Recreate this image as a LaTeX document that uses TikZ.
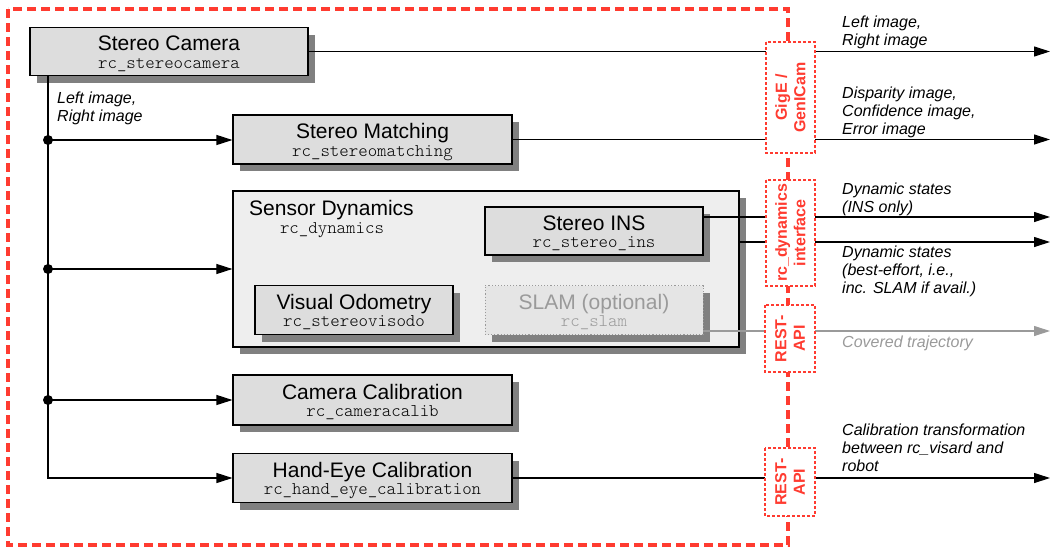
\documentclass[tikz,border=0pt]{standalone}
\usepackage{fontspec}
\setmainfont{Liberation Sans}
\newfontfamily\monof{lmmonolt10-regular.otf}
\usetikzlibrary{arrows.meta,shadows}
\definecolor{ifred}{HTML}{FF3B30}
\definecolor{boxfill}{HTML}{DDDDDD}
\definecolor{dynfill}{HTML}{EEEEEE}
\definecolor{shadowgray}{HTML}{808080}
\definecolor{slamgray}{HTML}{9A9A9A}
\newcommand{\mono}[1]{{\monof\fontsize{18}{18}\selectfont #1}}
\newcommand{\modtext}[2]{\rule{0pt}{21pt}#1\\\mono{#2}\rule[-5pt]{0pt}{5pt}}
\tikzset{
  modbox/.style={draw=black, line width=1.1pt, fill=boxfill, inner sep=0pt, align=center,
    font=\fontsize{21}{17.5}\selectfont,
    drop shadow={shadow xshift=7pt, shadow yshift=-7pt, fill=shadowgray, opacity=1}},
  slambox/.style={modbox, draw=slamgray, dotted, line width=0.9pt, fill=black!10, text=slamgray},
  dynbox/.style={modbox, fill=dynfill, line width=1.2pt},
  ifbox/.style={draw=ifred, line width=1.8pt, dash pattern=on 3pt off 2pt, fill=white,
    rotate=90, inner sep=0pt, align=center, text=ifred, font=\bfseries\fontsize{16}{18.5}\selectfont},
  frame/.style={draw=ifred, line width=3.2pt, dash pattern=on 9pt off 5pt},
  arr/.style={line width=1.1pt, -{Triangle[length=16pt,width=10pt]}},
  conn/.style={line width=1.1pt},
  lbl/.style={anchor=north west, inner sep=0pt, align=left, font=\fontsize{16}{18}\selectfont\itshape},
  dot/.style={circle, fill=black, inner sep=0pt, minimum size=10pt}
}
\begin{document}
\begin{tikzpicture}[x=1pt,y=-1pt]
\useasboundingbox (0,0) rectangle (1056,557);
% outer frame
\draw[frame] (8,9) rectangle (788,545);
% modules
\node[modbox, minimum width=278pt, minimum height=48pt] (cam) at (169,51.5) {\modtext{Stereo Camera}{rc\_stereocamera}};
\node[modbox, minimum width=279pt, minimum height=49pt] (match) at (372.5,139.5) {\modtext{Stereo Matching}{rc\_stereomatching}};
\node[dynbox, minimum width=506pt, minimum height=156pt] (dyn) at (486,269) {};
\node[anchor=base west, inner sep=0pt, font=\fontsize{21}{18}\selectfont] (dyntitle) at (249,215) {Sensor Dynamics};
\node[anchor=base, inner sep=0pt] (dynmono) at (332,233) {\mono{rc\_dynamics}};
\node[modbox, minimum width=218pt, minimum height=48pt] (ins) at (594,231) {\modtext{Stereo INS}{rc\_stereo\_ins}};
\node[modbox, minimum width=198pt, minimum height=49pt] (vo) at (354,310) {\modtext{Visual Odometry}{rc\_stereovisodo}};
\node[slambox, minimum width=218pt, minimum height=49pt] (slam) at (594,310) {\modtext{SLAM (optional)}{rc\_slam}};
\node[modbox, minimum width=279pt, minimum height=50pt] (calib) at (372.5,400) {\modtext{Camera Calibration}{rc\_cameracalib}};
\node[modbox, minimum width=279pt, minimum height=49pt] (he) at (372.5,478) {\modtext{Hand-Eye Calibration}{rc\_hand\_eye\_calibration}};
% trunk
\coordinate (j1) at (48,140);
\coordinate (j2) at (48,269);
\coordinate (j3) at (48,400);
\draw[conn] (j1 |- cam.south) -- (j3);
\draw[arr] (j3) |- (he.west);
\draw[arr] (j1) -- (j1 -| match.west);
\draw[arr] (j2) -- (j2 -| dyn.west);
\draw[arr] (j3) -- (j3 -| calib.west);
\node[dot] (d1) at (j1) {};
\node[dot] (d2) at (j2) {};
\node[dot] (d3) at (j3) {};
\node[lbl] (lleft) at (57,91.3) {Left image,\\Right image};
% outputs
\coordinate (o1) at (1050,51.5);
\coordinate (o2) at (1050,139.5);
\coordinate (o3) at (1050,217);
\coordinate (o4) at (1050,242);
\coordinate (o5) at (1050,331);
\coordinate (o6) at (1050,478);
\draw[arr] (cam.east) -- (o1);
\draw[arr] (match.east) -- (o2);
\draw[arr] (o3 -| ins.east) -- (o3);
\draw[arr] (o4 -| dyn.east) -- (o4);
\draw[arr, draw=slamgray, fill=slamgray] (o5 -| slam.east) -- (o5);
\draw[arr] (he.east) -- (o6);
% interfaces
\node[ifbox, minimum width=111pt, minimum height=49pt] (gige) at (790.5,97.5) {GigE /\\GenICam};
\node[ifbox, minimum width=106pt, minimum height=49pt] (dynif) at (790.5,233) {rc\_dynamics\\interface};
\node[ifbox, minimum width=67pt, minimum height=50pt] (rest1) at (790,338.5) {REST-\\API};
\node[ifbox, minimum width=68pt, minimum height=50pt] (rest2) at (790,482) {REST-\\API};
% output labels
\node[lbl] (l1) at (842,15.3) {Left image,\\Right image};
\node[lbl] (l2) at (842,86.3) {Disparity image,\\Confidence image,\\Error image};
\node[lbl] (l3) at (842,182.3) {Dynamic states\\(INS only)};
\node[lbl] (l4) at (842,245.3) {Dynamic states\\(best-effort, i.e.,\\inc. SLAM if avail.)};
\node[lbl, text=slamgray] (l5) at (842,335.3) {Covered trajectory};
\node[lbl] (l6) at (842,423.3) {Calibration transformation\\between rc\_visard and\\robot};
\end{tikzpicture}
\end{document}
